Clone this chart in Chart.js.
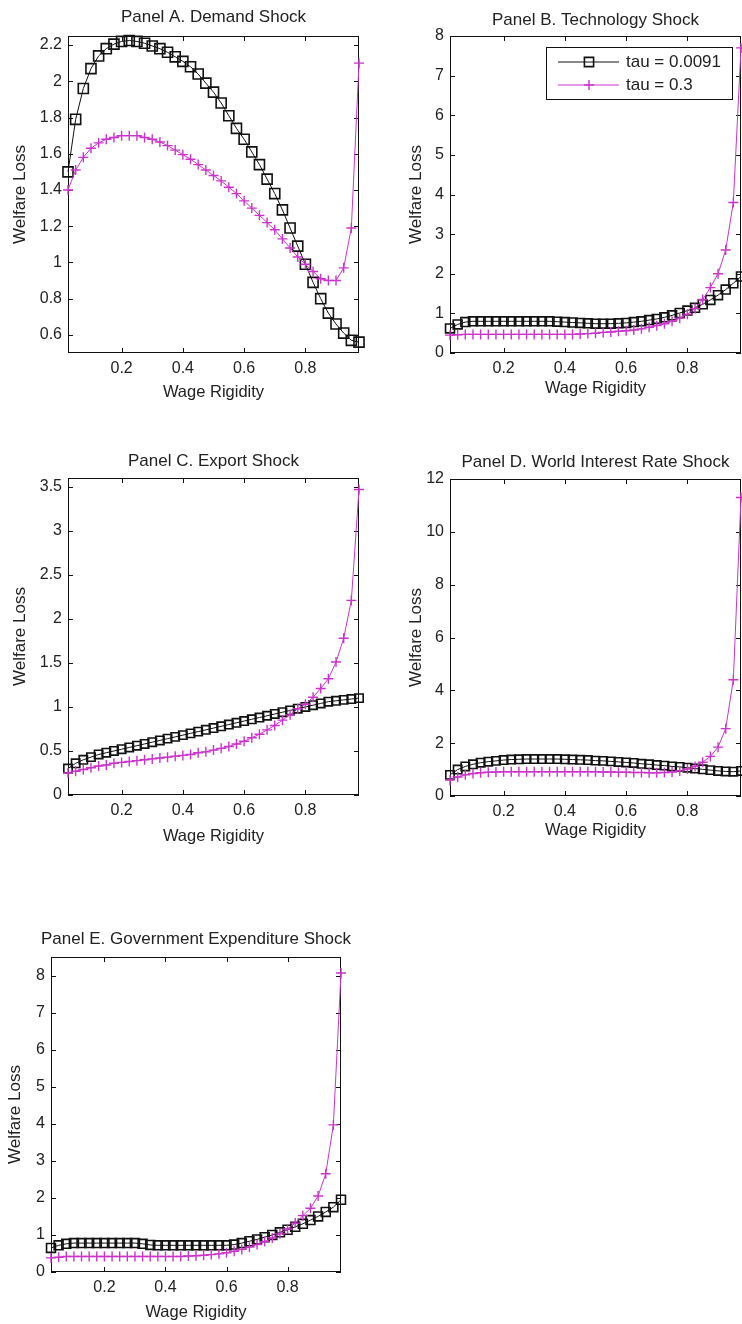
<!DOCTYPE html>
<html lang="en">

<head>
    <meta charset="UTF-8">
    <title>Welfare Loss and Wage Rigidity</title>
    <script src="https://cdn.jsdelivr.net/npm/chart.js@4"></script>
    <style>
        html, body { margin: 0; padding: 0; background: #fff; overflow: hidden; }
        body { position: relative; width: 742px; height: 1324px; }
        canvas { position: absolute; }
    </style>
</head>

<body>
    <canvas id="panelA"></canvas>
    <canvas id="panelB"></canvas>
    <canvas id="panelC"></canvas>
    <canvas id="panelD"></canvas>
    <canvas id="panelE"></canvas>

    <script>
        // Wage rigidity grid (x values)
        const wageRigidity = [0.025, 0.05, 0.075, 0.1, 0.125, 0.15, 0.175, 0.2, 0.225, 0.25,
            0.275, 0.3, 0.325, 0.35, 0.375, 0.4, 0.425, 0.45, 0.475, 0.5,
            0.525, 0.55, 0.575, 0.6, 0.625, 0.65, 0.675, 0.7, 0.725, 0.75,
            0.775, 0.8, 0.825, 0.85, 0.875, 0.9, 0.925, 0.95, 0.975];

        const seriesLabels = ['tau = 0.0091', 'tau = 0.3'];

        // Panel A. Demand Shock
        const demandLow = [1.50, 1.79, 1.96, 2.07, 2.14, 2.18, 2.205, 2.22, 2.225, 2.22,
            2.21, 2.195, 2.18, 2.16, 2.135, 2.11, 2.08, 2.04, 1.99, 1.94,
            1.88, 1.81, 1.74, 1.68, 1.61, 1.54, 1.46, 1.38, 1.29, 1.19,
            1.09, 0.99, 0.89, 0.80, 0.72, 0.66, 0.61, 0.57, 0.56];
        const demandHigh = [1.40, 1.51, 1.58, 1.63, 1.66, 1.68, 1.69, 1.70, 1.70, 1.70,
            1.69, 1.68, 1.665, 1.645, 1.62, 1.595, 1.57, 1.54, 1.51, 1.48,
            1.45, 1.415, 1.38, 1.34, 1.30, 1.26, 1.22, 1.18, 1.13, 1.08,
            1.03, 0.99, 0.95, 0.91, 0.90, 0.90, 0.97, 1.19, 2.10];

        // Panel B. Technology Shock
        const techLow = [0.62, 0.72, 0.78, 0.80, 0.80, 0.80, 0.80, 0.80, 0.80, 0.80,
            0.80, 0.80, 0.80, 0.80, 0.79, 0.78, 0.77, 0.76, 0.75, 0.74,
            0.74, 0.74, 0.75, 0.76, 0.78, 0.80, 0.83, 0.86, 0.90, 0.95,
            1.01, 1.07, 1.14, 1.23, 1.34, 1.46, 1.60, 1.76, 1.93];
        const techHigh = [0.45, 0.46, 0.47, 0.47, 0.47, 0.47, 0.47, 0.47, 0.47, 0.47,
            0.47, 0.47, 0.47, 0.47, 0.47, 0.47, 0.47, 0.48, 0.49, 0.50,
            0.52, 0.53, 0.55, 0.56, 0.58, 0.61, 0.65, 0.69, 0.74, 0.80,
            0.88, 0.98, 1.12, 1.35, 1.65, 2.00, 2.60, 3.80, 7.70];

        // Panel C. Export Shock
        const exportLow = [0.30, 0.36, 0.40, 0.43, 0.46, 0.48, 0.50, 0.52, 0.54, 0.56,
            0.58, 0.60, 0.62, 0.64, 0.66, 0.68, 0.70, 0.72, 0.74, 0.76,
            0.78, 0.80, 0.82, 0.84, 0.86, 0.88, 0.90, 0.92, 0.94, 0.96,
            0.98, 1.00, 1.02, 1.04, 1.06, 1.07, 1.08, 1.09, 1.10];
        const exportHigh = [0.25, 0.27, 0.29, 0.31, 0.33, 0.34, 0.36, 0.37, 0.38, 0.39,
            0.40, 0.41, 0.42, 0.43, 0.44, 0.45, 0.46, 0.48, 0.49, 0.51,
            0.53, 0.55, 0.58, 0.61, 0.65, 0.69, 0.74, 0.79, 0.85, 0.91,
            0.98, 1.03, 1.11, 1.21, 1.32, 1.51, 1.78, 2.21, 3.47];

        // Panel D. World Interest Rate Shock
        const interestLow = [0.80, 1.00, 1.12, 1.20, 1.26, 1.30, 1.33, 1.36, 1.38, 1.39,
            1.40, 1.40, 1.40, 1.40, 1.40, 1.39, 1.38, 1.37, 1.36, 1.34,
            1.33, 1.31, 1.29, 1.27, 1.25, 1.22, 1.20, 1.17, 1.15, 1.12,
            1.10, 1.07, 1.04, 1.01, 0.98, 0.95, 0.93, 0.92, 0.95];
        const interestHigh = [0.60, 0.72, 0.80, 0.85, 0.88, 0.90, 0.91, 0.92, 0.92, 0.92,
            0.92, 0.92, 0.92, 0.92, 0.92, 0.92, 0.92, 0.92, 0.92, 0.92,
            0.91, 0.91, 0.90, 0.90, 0.89, 0.89, 0.88, 0.88, 0.89, 0.91,
            0.95, 1.02, 1.12, 1.28, 1.50, 1.85, 2.55, 4.40, 11.30];

        // Panel E. Government Expenditure Shock
        const govLow = [0.65, 0.72, 0.76, 0.78, 0.78, 0.78, 0.78, 0.78, 0.78, 0.78,
            0.78, 0.78, 0.76, 0.73, 0.72, 0.72, 0.72, 0.72, 0.72, 0.72,
            0.72, 0.72, 0.72, 0.72, 0.74, 0.78, 0.83, 0.88, 0.94, 1.00,
            1.07, 1.14, 1.22, 1.30, 1.40, 1.50, 1.62, 1.75, 1.95];
        const govHigh = [0.38, 0.40, 0.42, 0.42, 0.42, 0.42, 0.42, 0.42, 0.42, 0.42,
            0.42, 0.42, 0.42, 0.42, 0.42, 0.42, 0.42, 0.42, 0.43, 0.44,
            0.45, 0.47, 0.49, 0.52, 0.56, 0.61, 0.67, 0.74, 0.82, 0.92,
            1.03, 1.16, 1.32, 1.52, 1.72, 2.05, 2.65, 3.97, 8.07];

        // Tick values
        const xTicks = [0.2, 0.4, 0.6, 0.8];
        const yTicksA = [0.6, 0.8, 1, 1.2, 1.4, 1.6, 1.8, 2, 2.2];
        const yTicksB = [0, 1, 2, 3, 4, 5, 6, 7, 8];
        const yTicksC = [0, 0.5, 1, 1.5, 2, 2.5, 3, 3.5];
        const yTicksD = [0, 2, 4, 6, 8, 10, 12];
        const yTicksE = [0, 1, 2, 3, 4, 5, 6, 7, 8];

        const xTitle = 'Wage Rigidity';
        const yTitle = 'Welfare Loss';

        const BLACK = '#111111';
        const MAGENTA = '#cc33cc';
        const TEXT = '#222222';
        const FONT = "'Liberation Sans', Arial, sans-serif";

        // Layout: plot rectangle on the page and text offsets
        const panels = [
            { id: 'panelA', title: 'Panel A. Demand Shock', low: demandLow, high: demandHigh,
              yMin: 0.5, yMax: 2.25, yTicks: yTicksA, rect: [68, 36, 359, 353],
              titleGap: 19, yTitleGap: 48, xTitleGap: 39, square: 7.1, legend: false },
            { id: 'panelB', title: 'Panel B. Technology Shock', low: techLow, high: techHigh,
              yMin: 0, yMax: 8, yTicks: yTicksB, rect: [450, 36, 741, 353],
              titleGap: 16, yTitleGap: 34, xTitleGap: 35, square: 6.3, legend: true },
            { id: 'panelC', title: 'Panel C. Export Shock', low: exportLow, high: exportHigh,
              yMin: 0, yMax: 3.6, yTicks: yTicksC, rect: [68, 478, 359, 795],
              titleGap: 17, yTitleGap: 48, xTitleGap: 41, square: 5.9, legend: false },
            { id: 'panelD', title: 'Panel D. World Interest Rate Shock', low: interestLow, high: interestHigh,
              yMin: 0, yMax: 12, yTicks: yTicksD, rect: [450, 479, 741, 796],
              titleGap: 17, yTitleGap: 34, xTitleGap: 34, square: 5.9, legend: false },
            { id: 'panelE', title: 'Panel E. Government Expenditure Shock', low: govLow, high: govHigh,
              yMin: 0, yMax: 8.5, yTicks: yTicksE, rect: [51, 957, 341, 1272],
              titleGap: 18, yTitleGap: 36, xTitleGap: 40, square: 6.3, legend: false }
        ];

        const PAD_LEFT = 65, PAD_TOP = 40, PAD_RIGHT = 12, PAD_BOTTOM = 58;

        function fmt(v) {
            return String(+Number(v).toFixed(2));
        }

        function drawMarker(ctx, style, x, y, r) {
            ctx.beginPath();
            if (style === 'rect') {
                const s = r * Math.SQRT1_2;
                ctx.rect(x - s, y - s, 2 * s, 2 * s);
            } else {
                ctx.moveTo(x - r, y); ctx.lineTo(x + r, y);
                ctx.moveTo(x, y - r); ctx.lineTo(x, y + r);
            }
            ctx.stroke();
        }

        // MATLAB-like box, inward ticks, title and boxed legend
        const matlabAxes = {
            id: 'matlabAxes',
            beforeDatasetsDraw(chart) {
                const { ctx, chartArea: a, scales: { x, y } } = chart;
                ctx.save();
                ctx.strokeStyle = BLACK;
                ctx.lineWidth = 1;
                ctx.beginPath();
                x.ticks.forEach(t => {
                    const px = Math.round(x.getPixelForValue(t.value)) + 0.5;
                    ctx.moveTo(px, a.bottom); ctx.lineTo(px, a.bottom - 5);
                    ctx.moveTo(px, a.top); ctx.lineTo(px, a.top + 5);
                });
                y.ticks.forEach(t => {
                    const py = Math.round(y.getPixelForValue(t.value)) + 0.5;
                    ctx.moveTo(a.left, py); ctx.lineTo(a.left + 5, py);
                    ctx.moveTo(a.right, py); ctx.lineTo(a.right - 5, py);
                });
                ctx.stroke();
                ctx.strokeRect(a.left + 0.5, a.top + 0.5, a.right - a.left - 1, a.bottom - a.top - 1);
                ctx.restore();
            },
            afterDraw(chart, args, opts) {
                const { ctx, chartArea: a } = chart;
                ctx.save();
                ctx.fillStyle = TEXT;
                ctx.font = '17px ' + FONT;
                ctx.textAlign = 'center';
                ctx.textBaseline = 'middle';
                ctx.fillText(opts.title, (a.left + a.right) / 2, a.top - opts.titleGap);

                if (opts.legend) {
                    const bx = a.right - 195, by = a.top + 11, bw = 186, bh = 52;
                    ctx.fillStyle = '#fff';
                    ctx.fillRect(bx, by, bw, bh);
                    ctx.strokeStyle = BLACK;
                    ctx.lineWidth = 1;
                    ctx.strokeRect(bx + 0.5, by + 0.5, bw, bh);
                    ctx.textAlign = 'left';
                    ctx.font = '17px ' + FONT;
                    chart.data.datasets.forEach((ds, i) => {
                        const ry = by + 15 + i * 23;
                        ctx.strokeStyle = ds.borderColor;
                        ctx.lineWidth = 1;
                        ctx.beginPath();
                        ctx.moveTo(bx + 12, ry); ctx.lineTo(bx + 73, ry);
                        ctx.stroke();
                        ctx.lineWidth = ds.pointBorderWidth;
                        drawMarker(ctx, ds.pointStyle, bx + 43, ry, ds.pointStyle === 'rect' ? 6.5 : ds.pointRadius);
                        ctx.fillStyle = TEXT;
                        ctx.fillText(ds.label, bx + 80, ry);
                    });
                }
                ctx.restore();
            }
        };

        panels.forEach(p => {
            const [l, t, r, b] = p.rect;
            const canvas = document.getElementById(p.id);
            canvas.width = (r - l) + PAD_LEFT + PAD_RIGHT;
            canvas.height = (b - t) + PAD_TOP + PAD_BOTTOM;
            canvas.style.left = (l - PAD_LEFT) + 'px';
            canvas.style.top = (t - PAD_TOP) + 'px';

            const toPoints = vals => wageRigidity.map((x, i) => ({ x: x, y: vals[i] }));

            new Chart(canvas, {
                type: 'line',
                data: {
                    datasets: [
                        {
                            label: seriesLabels[0],
                            data: toPoints(p.low),
                            borderColor: BLACK,
                            borderWidth: 1,
                            pointStyle: 'rect',
                            pointRadius: p.square,
                            pointBorderWidth: 1.6,
                            pointBorderColor: BLACK,
                            pointBackgroundColor: 'rgba(0,0,0,0)',
                            order: 1,
                            clip: false
                        },
                        {
                            label: seriesLabels[1],
                            data: toPoints(p.high),
                            borderColor: MAGENTA,
                            borderWidth: 1,
                            pointStyle: 'cross',
                            pointRadius: 5,
                            pointBorderWidth: 1.4,
                            pointBorderColor: MAGENTA,
                            order: 0,
                            clip: false
                        }
                    ]
                },
                options: {
                    responsive: false,
                    animation: false,
                    events: [],
                    layout: { padding: { top: PAD_TOP, right: PAD_RIGHT, left: 0, bottom: 0 } },
                    elements: { line: { tension: 0 } },
                    plugins: {
                        legend: { display: false },
                        tooltip: { enabled: false },
                        title: { display: false },
                        matlabAxes: { title: p.title, titleGap: p.titleGap, legend: p.legend }
                    },
                    scales: {
                        x: {
                            type: 'linear',
                            min: 0.025,
                            max: 0.975,
                            afterFit: s => { s.height = PAD_BOTTOM; },
                            afterBuildTicks: s => { s.ticks = xTicks.map(v => ({ value: v })); },
                            grid: { display: false, drawTicks: false },
                            border: { display: false },
                            ticks: { padding: 6, color: TEXT, font: { family: FONT, size: 16 }, callback: v => fmt(v) },
                            title: {
                                display: true, text: xTitle, color: TEXT,
                                font: { family: FONT, size: 16.5 },
                                padding: { top: 0, bottom: PAD_BOTTOM - p.xTitleGap - 9.9 }
                            }
                        },
                        y: {
                            type: 'linear',
                            min: p.yMin,
                            max: p.yMax,
                            afterFit: s => { s.width = PAD_LEFT; },
                            afterBuildTicks: s => { s.ticks = p.yTicks.map(v => ({ value: v })); },
                            grid: { display: false, drawTicks: false },
                            border: { display: false },
                            ticks: { padding: 6, color: TEXT, font: { family: FONT, size: 16 }, callback: v => fmt(v) },
                            title: {
                                display: true, text: yTitle, color: TEXT,
                                font: { family: FONT, size: 17 },
                                padding: { top: PAD_LEFT - p.yTitleGap - 10.2, bottom: 0 }
                            }
                        }
                    }
                },
                plugins: [matlabAxes]
            });
        });
    </script>
</body>

</html>
